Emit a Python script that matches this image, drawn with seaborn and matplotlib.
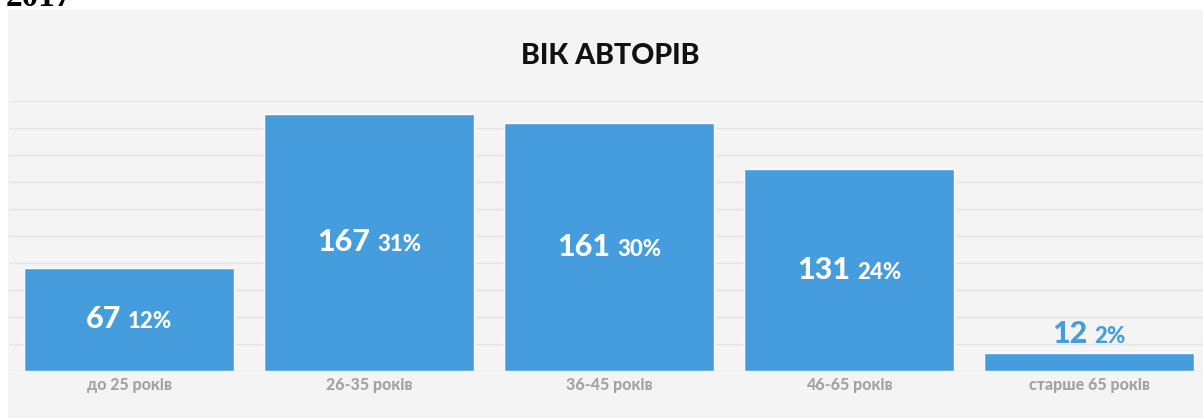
import matplotlib
matplotlib.use("Agg")
import matplotlib.pyplot as plt
import seaborn as sns
import pandas as pd
from matplotlib.patches import Rectangle
from matplotlib.offsetbox import TextArea, HPacker, AnnotationBbox
from matplotlib.ticker import MultipleLocator

categories = ["до 25 років", "26-35 років", "36-45 років", "46-65 років", "старше 65 років"]
counts = [67, 167, 161, 131, 12]
percents = ["12%", "31%", "30%", "24%", "2%"]
title = "ВІК АВТОРІВ"
year_text = "2017"

sns.set_theme(style="white")
FAM = ["Lato", "Inter", "DejaVu Sans"]
plt.rcParams["font.family"] = FAM

BAR = "#459dde"
PANEL = "#f4f4f5"
GRID = "#e4e4e6"

W, H = 1203, 418
fig = plt.figure(figsize=(W / 100, H / 100), dpi=100)
fig.patch.set_facecolor("white")
fig.patches.append(Rectangle((8 / W, 0), 1, 1 - 10 / H, transform=fig.transFigure,
                             facecolor=PANEL, edgecolor="none", zorder=-10))

base_y = 371
top_y = 100.7
ax = fig.add_axes([9 / W, (H - base_y) / H, 1200 / W, (base_y - top_y) / H])
ax.set_facecolor("none")

df = pd.DataFrame({"cat": categories, "n": counts})
sns.barplot(data=df, x="cat", y="n", color=BAR, saturation=1, width=0.875, ax=ax, zorder=3)

ax.set_xlim(-0.5, 4.5)
ax.set_ylim(0, 175.6)
ax.yaxis.set_major_locator(MultipleLocator(17.56))
ax.grid(axis="y", color=GRID, linewidth=1, zorder=0)
ax.set_axisbelow(True)
for s in ax.spines.values():
    s.set_visible(False)
ax.set_xlabel("")
ax.set_ylabel("")
ax.set_yticklabels([])
ax.tick_params(axis="y", length=0)
ax.tick_params(axis="x", length=0, pad=4, labelsize=11.5, labelcolor="#a3a3a6")
for lab in ax.get_xticklabels():
    lab.set_fontweight("black")

for i, (v, p) in enumerate(zip(counts, percents)):
    inside = v > 40
    col = "white" if inside else BAR
    big = TextArea(str(v), textprops=dict(fontsize=22, fontweight="black", color=col, family=FAM))
    small = TextArea(p, textprops=dict(fontsize=16, fontweight="black", color=col, family=FAM))
    pack = HPacker(children=[big, small], align="baseline", pad=0, sep=5)
    if inside:
        ab = AnnotationBbox(pack, (i, v / 2), frameon=False, box_alignment=(0.5, 0.5))
    else:
        ab = AnnotationBbox(pack, (i, v), xybox=(0, 13), boxcoords="offset points",
                            frameon=False, box_alignment=(0.5, 0.5))
    ax.add_artist(ab)

fig.text(610 / W, 1 - 56 / H, title, ha="center", va="center", fontsize=20.5,
         fontweight="black", color="#111111")
fig.text(6 / W, 1 - 6 / H, year_text, ha="left", va="baseline", fontsize=24,
         fontweight="bold", family=["Liberation Serif", "DejaVu Serif"], color="black")

fig.savefig("out.png", dpi=100, facecolor="white")
